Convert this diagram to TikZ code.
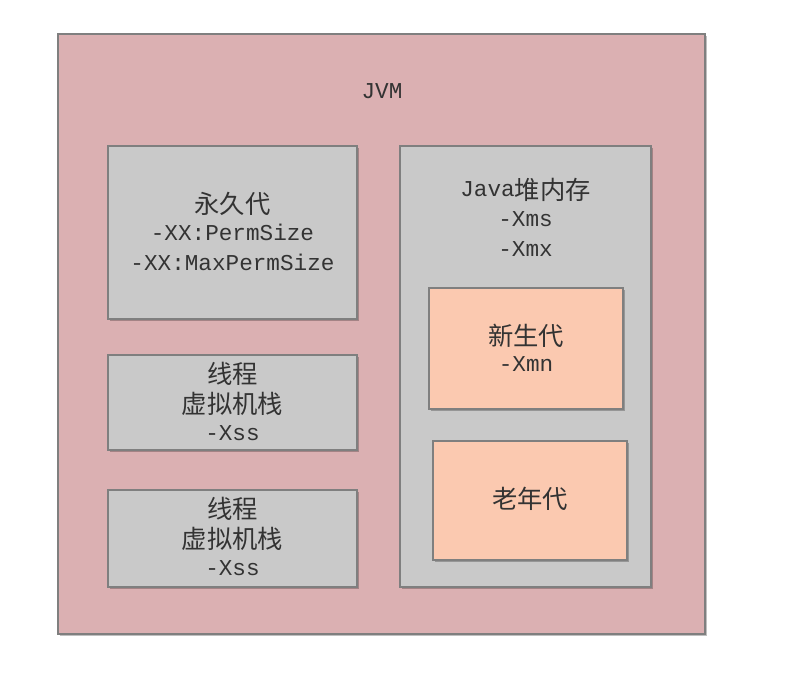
\documentclass[tikz,border=0pt]{standalone}
\usepackage{fontspec}
\setmonofont{Liberation Mono}
\newfontfamily\cjk{Noto Sans CJK SC}
\usetikzlibrary{shadows}
% CJK words keep the line height of the monospaced text around them
\newcommand\zh[1]{\mbox{\vphantom{Xg}\smash{\raisebox{-2.4pt}{\cjk\fontsize{19}{22.5}\selectfont #1}}}}
\definecolor{jvmfill}{HTML}{DBB0B2}
\definecolor{areafill}{HTML}{C9C9C9}
\definecolor{genfill}{HTML}{FBC9B0}
\definecolor{edge}{HTML}{7F7F7F}
\definecolor{ink}{HTML}{333333}
\tikzset{
  panel/.style={draw=edge, line width=1.1pt,
    drop shadow={shadow xshift=1.5pt, shadow yshift=-1.5pt, opacity=0.25, fill=black}},
  label/.style={align=center, text=ink, inner sep=0pt,
    font=\ttfamily\fontsize{17}{22.5}\selectfont},
}
\begin{document}
\begin{tikzpicture}[x=0.75pt, y=-0.75pt]
  \useasboundingbox[fill=white] (0,0) rectangle (788,686);
  % outer JVM area
  \draw[panel, fill=jvmfill, line width=0.9pt] (58,34) rectangle (705,634);
  \node[label] (jvm) at (382,91) {JVM};
  % method area
  \draw[panel, fill=areafill] (108,146) rectangle (357,319);
  \node[label] (perm) at (232.5,233) {\zh{永久代}\\-XX:PermSize\\-XX:MaxPermSize};
  % thread stacks
  \draw[panel, fill=areafill] (108,355) rectangle (357,450);
  \node[label] (stack1) at (232.5,403) {\zh{线程}\\\zh{虚拟机栈}\\-Xss};
  \draw[panel, fill=areafill] (108,490) rectangle (357,587);
  \node[label] (stack2) at (232.5,538) {\zh{线程}\\\zh{虚拟机栈}\\-Xss};
  % heap
  \draw[panel, fill=areafill] (400,146) rectangle (651,587);
  \node[label] (heap) at (525.5,219) {Java\zh{堆内存}\\-Xms\\-Xmx};
  \draw[panel, fill=genfill] (429,288) rectangle (623,409);
  \node[label] (young) at (526,349.5) {\zh{新生代}\\-Xmn};
  \draw[panel, fill=genfill] (433,441) rectangle (627,560);
  \node[label] (old) at (530,500.5) {\zh{老年代}};
\end{tikzpicture}
\end{document}
